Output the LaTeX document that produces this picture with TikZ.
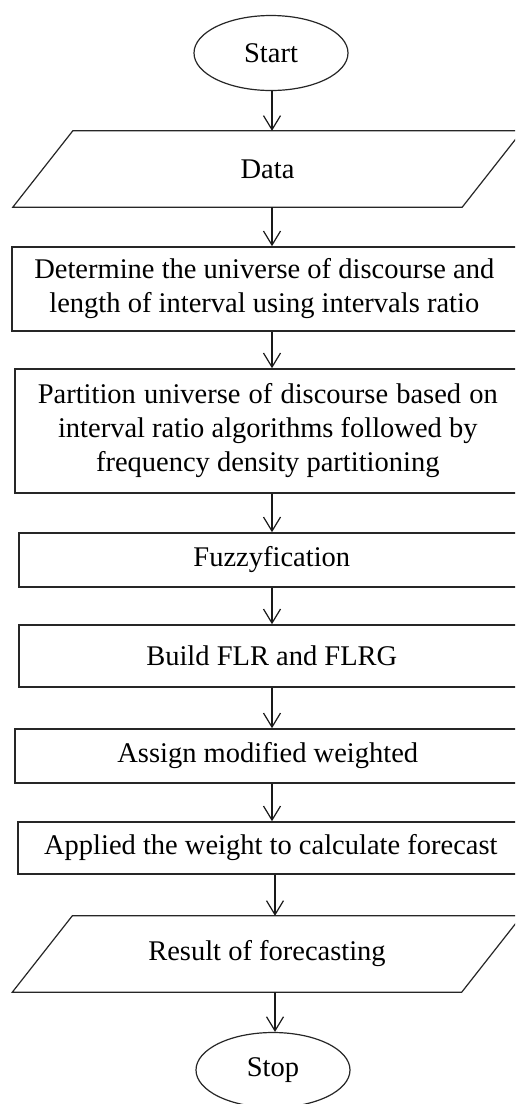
\documentclass[tikz,border=0pt]{standalone}
\usepackage{fontspec}
\setmainfont{Liberation Serif}
\usetikzlibrary{arrows.meta,shapes.geometric}
\begin{document}
\begin{tikzpicture}[x=1pt,y=-1pt,
  every node/.style={font=\fontsize{28.5pt}{34pt}\selectfont},
  term/.style={draw=black!85, line width=1.2pt, ellipse, minimum width=154pt, minimum height=75pt, inner sep=0pt},
  procbox/.style={draw=black!85, line width=1.6pt, rectangle, anchor=west, align=center, inner sep=0pt, minimum width=506pt},
  iobox/.style={rectangle, inner sep=0pt, align=center, minimum width=449pt, minimum height=76pt},
  iodraw/.style={draw=black!85, line width=1.2pt, line join=miter},
  arr/.style={draw=black!90, line width=1.2pt, -{Straight Barb[length=14pt,width=17pt,line width=1.2pt]}}
]
\useasboundingbox (0,0) rectangle (515,1104);
\clip (0,0) rectangle (515,1104);
\fill[white] (0,0) rectangle (515,1104);

\node[term] (start) at (271,53) {Start};
\node[iobox] (data) at (267.5,169) {Data};
\draw[iodraw] ([xshift=-30pt]data.south west) -- ([xshift=30pt]data.north west) -- ([xshift=30pt]data.north east) -- ([xshift=-30pt]data.south east) -- cycle;

\node[procbox, minimum width=505pt, minimum height=84pt] (b1) at (11,289) {\makebox[460pt][s]{Determine the universe of discourse and}\\length of interval using intervals ratio};
\node[procbox, minimum height=124pt] (b2) at (14,431) {\makebox[460pt][s]{Partition universe of discourse based on}\\interval ratio algorithms followed by\\frequency density partitioning};
\node[procbox, minimum height=54pt] (b3) at (18,560) {Fuzzyfication};
\node[procbox, minimum height=62pt] (b4) at (18,656) {Build FLR and FLRG};
\node[procbox, minimum height=54pt] (b5) at (14,756) {Assign modified weighted};
\node[procbox, minimum height=52pt] (b6) at (17,848) {Applied the weight to calculate forecast};

\node[iobox] (result) at (267,954) {Result of forecasting};
\draw[iodraw] ([xshift=-30pt]result.south west) -- ([xshift=30pt]result.north west) -- ([xshift=30pt]result.north east) -- ([xshift=-30pt]result.south east) -- cycle;

\node[term] (stop) at (273,1070) {Stop};

\coordinate (colA) at (272,0);
\coordinate (colB) at (275,0);
\draw[arr] (colA |- start.south) -- (colA |- data.north);
\draw[arr] (colA |- data.south) -- (colA |- b1.north);
\draw[arr] (colA |- b1.south) -- (colA |- b2.north);
\draw[arr] (colA |- b2.south) -- (colA |- b3.north);
\draw[arr] (colA |- b3.south) -- (colA |- b4.north);
\draw[arr] (colA |- b4.south) -- (colA |- b5.north);
\draw[arr] (colA |- b5.south) -- (colA |- b6.north);
\draw[arr] (colB |- b6.south) -- (colB |- result.north);
\draw[arr] (colB |- result.south) -- (colB |- stop.north);
\end{tikzpicture}
\end{document}
